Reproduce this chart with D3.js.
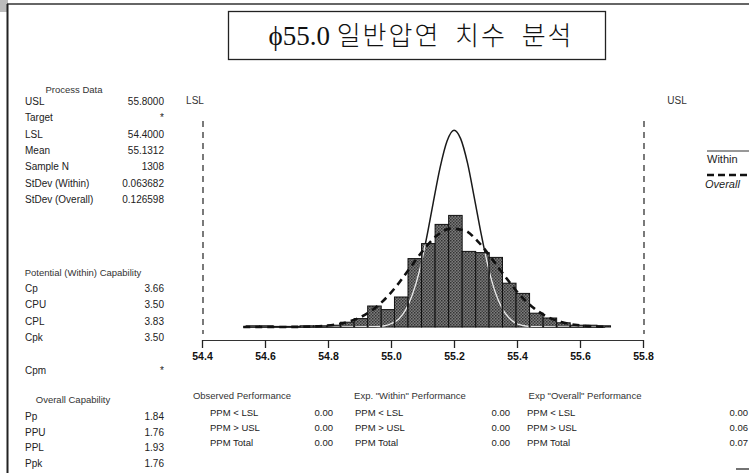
<!DOCTYPE html>
<html>
<head>
<meta charset="utf-8">
<script src="https://cdn.jsdelivr.net/npm/d3@7"></script>
<style>
body { margin: 0; background: #fff; }
svg { display: block; font-family: "Liberation Sans", Arial, sans-serif; }
</style>
</head>
<body>
<svg id="drawing_region"></svg>
<script>
// histogram bins (lower edges on the printed axis) and counts
const binStarts = [54.540, 54.583, 54.626, 54.669, 54.711, 54.754, 54.797, 54.840, 54.883, 54.926, 54.969, 55.011, 55.054, 55.097, 55.140, 55.183, 55.226, 55.269, 55.311, 55.354, 55.397, 55.440, 55.483, 55.526, 55.569, 55.611, 55.654];
const binCounts = [2, 2, 1, 1, 2, 2, 3, 8, 14, 35, 29, 50, 114, 139, 171, 186, 126, 124, 116, 73, 56, 23, 15, 7, 3, 3, 2];
const binWidth = 0.0429;

// the two fitted curves
const withinX = [54.531, 54.838, 54.937, 54.959, 54.980, 55.002, 55.024, 55.046, 55.068, 55.090, 55.112, 55.134, 55.156, 55.178, 55.200, 55.221, 55.243, 55.265, 55.287, 55.309, 55.331, 55.353, 55.375, 55.397, 55.419, 55.440, 55.462, 55.550, 55.680];
const withinY = [0, 0, 0.3, 0.8, 2, 6, 13, 28, 54, 93, 146, 207, 266, 310, 328, 314, 273, 214, 153, 99, 58, 31, 15, 6, 2.5, 1, 0.3, 0, 0];
const overallX = [54.531, 54.575, 54.619, 54.663, 54.707, 54.751, 54.794, 54.838, 54.882, 54.926, 54.970, 55.014, 55.057, 55.101, 55.145, 55.189, 55.233, 55.277, 55.320, 55.364, 55.408, 55.452, 55.496, 55.540, 55.583, 55.626, 55.680];
const overallY = [0, 0, 0, 0.1, 0.3, 0.8, 2.2, 5.4, 11.7, 23, 41, 66, 96, 127, 152, 164, 161, 142, 114, 83, 54, 32, 17, 8.4, 3.7, 1.5, 0.2];

const xTicks = [54.4, 54.6, 54.8, 55.0, 55.2, 55.4, 55.6, 55.8];
const specNames = ["LSL", "USL"];
const specValues = [54.4, 55.8];

const titleText = ["ϕ55.0", "일반압연 치수 분석"];

const processLabels = ["USL", "Target", "LSL", "Mean", "Sample N", "StDev (Within)", "StDev (Overall)"];
const processValues = ["55.8000", "*", "54.4000", "55.1312", "1308", "0.063682", "0.126598"];
const potentialLabels = ["Cp", "CPU", "CPL", "Cpk"];
const potentialValues = ["3.66", "3.50", "3.83", "3.50"];
const cpmLabel = ["Cpm", "*"];
const overallLabels = ["Pp", "PPU", "PPL", "Ppk"];
const overallValues = ["1.84", "1.76", "1.93", "1.76"];

const perfTitles = ["Observed Performance", "Exp. \"Within\" Performance", "Exp \"Overall\" Performance"];
const perfLabels = ["PPM < LSL", "PPM > USL", "PPM Total"];
const perfObserved = ["0.00", "0.00", "0.00"];
const perfWithin = ["0.00", "0.00", "0.00"];
const perfOverall = ["0.00", "0.06", "0.07"];

class CapabilityChart {

    constructor( config ) {
        this.config = config;
        this.init();
    }

    init() {
        let self = this;

        self.svg = d3.select( self.config.parent )
            .attr('width', self.config.width)
            .attr('height', self.config.height);

        const defs = self.svg.append('defs');
        const pat = defs.append('pattern')
            .attr('id', 'halftone')
            .attr('width', 3).attr('height', 3)
            .attr('patternUnits', 'userSpaceOnUse');
        pat.append('rect').attr('width', 3).attr('height', 3).attr('fill', '#7c7c7c');
        pat.append('rect').attr('width', 1.5).attr('height', 1.5).attr('fill', '#333');
        pat.append('rect').attr('x', 1.5).attr('y', 1.5).attr('width', 1.5).attr('height', 1.5).attr('fill', '#444');

        self.xscale = d3.scaleLinear()
            .domain( [54.4, 55.8] )
            .range( [202, 643] );

        self.yscale = d3.scaleLinear()
            .domain( [0, 200] )
            .range( [327, 207] );

        self.xaxis = d3.axisBottom( self.xscale )
            .tickValues( xTicks )
            .tickFormat( d3.format('.1f') )
            .tickSize(8)
            .tickSizeOuter(0)
            .tickPadding(5);
    }

    render() {
        let self = this;
        const svg = self.svg;

        // page frame from the scan
        svg.append('rect').attr('x', 0).attr('y', 0).attr('width', 8).attr('height', 12)
            .attr('fill', '#bbb');
        svg.append('line').attr('x1', 7).attr('x2', 749).attr('y1', 4).attr('y2', 4)
            .attr('stroke', '#333').attr('stroke-width', 1.5);
        svg.append('line').attr('x1', 7.5).attr('x2', 7.5).attr('y1', 4).attr('y2', 473)
            .attr('stroke', '#222').attr('stroke-width', 2);
        svg.append('line').attr('x1', 736).attr('x2', 749).attr('y1', 469).attr('y2', 469)
            .attr('stroke', '#444').attr('stroke-width', 1.5);

        // title box
        svg.append('rect')
            .attr('x', 228.5).attr('y', 11.5).attr('width', 377).attr('height', 48)
            .attr('fill', 'none').attr('stroke', '#222').attr('stroke-width', 1.3);
        const title = svg.append('text')
            .attr('x', 421).attr('y', 45)
            .attr('text-anchor', 'middle')
            .attr('fill', '#111');
        title.append('tspan')
            .style('font-family', '"Liberation Serif", serif')
            .style('font-size', '27px')
            .text( titleText[0] + ' ' );
        title.append('tspan')
            .style('font-family', '"Noto Sans CJK KR", sans-serif')
            .style('font-size', '26px')
            .style('font-weight', '300')
            .style('word-spacing', '7px')
            .style('letter-spacing', '2px')
            .text( titleText[1] );

        // histogram bars
        const bars = svg.append('g');
        bars.selectAll('rect')
            .data( binStarts )
            .join('rect')
            .attr('x', (d) => self.xscale(d))
            .attr('y', (d, i) => self.yscale(binCounts[i]))
            .attr('width', (d) => self.xscale(d + binWidth) - self.xscale(d))
            .attr('height', (d, i) => self.yscale(0) - self.yscale(binCounts[i]))
            .attr('fill', 'url(#halftone)')
            .attr('stroke', '#111')
            .attr('stroke-width', 1);

        const clip = svg.select('defs').append('clipPath').attr('id', 'barclip');
        clip.selectAll('rect')
            .data( binStarts )
            .join('rect')
            .attr('x', (d) => self.xscale(d) + 1)
            .attr('y', (d, i) => self.yscale(binCounts[i]) + 1)
            .attr('width', (d) => self.xscale(d + binWidth) - self.xscale(d) - 2)
            .attr('height', (d, i) => Math.max(0, self.yscale(0) - self.yscale(binCounts[i]) - 1));

        const line = d3.line()
            .x( (d) => self.xscale(d[0]) )
            .y( (d) => self.yscale(d[1]) )
            .curve( d3.curveMonotoneX );

        const within = withinX.map( (x, i) => [x, withinY[i]] );
        const overall = overallX.map( (x, i) => [x, overallY[i]] );

        svg.append('path')
            .attr('d', line(within))
            .attr('fill', 'none')
            .attr('stroke', '#1a1a1a')
            .attr('stroke-width', 1.5);
        svg.append('path')
            .attr('d', line(within))
            .attr('fill', 'none')
            .attr('stroke', '#e6e6e6')
            .attr('stroke-width', 1.5)
            .attr('clip-path', 'url(#barclip)');

        svg.append('path')
            .attr('d', line(overall))
            .attr('fill', 'none')
            .attr('stroke', '#111')
            .attr('stroke-width', 2.6)
            .attr('stroke-dasharray', '7,5');

        // spec limit lines, labels sit a little off the line as in the scan
        const labelShift = [-7, 34];
        specValues.forEach( (v, i) => {
            svg.append('line')
                .attr('x1', self.xscale(v) + 1).attr('x2', self.xscale(v) + 1)
                .attr('y1', 121).attr('y2', 334)
                .attr('stroke', '#333').attr('stroke-width', 1.3)
                .attr('stroke-dasharray', '6,5');
            svg.append('text')
                .attr('x', self.xscale(v) + labelShift[i]).attr('y', 104)
                .attr('text-anchor', 'middle')
                .attr('font-size', 10).attr('fill', '#333')
                .text( specNames[i] );
        });

        // x axis
        const ax = svg.append('g')
            .attr('transform', 'translate(0, 340)')
            .call( self.xaxis );
        ax.select('.domain').attr('stroke', '#333');
        ax.selectAll('.tick line').attr('stroke', '#222').attr('stroke-width', 1.3);
        ax.selectAll('.tick text')
            .attr('fill', '#111')
            .attr('font-size', 10.5)
            .attr('font-weight', 'bold')
            .attr('font-family', '"Liberation Sans", Arial, sans-serif');

        // legend
        svg.append('line').attr('x1', 707).attr('x2', 749).attr('y1', 151).attr('y2', 151)
            .attr('stroke', '#333').attr('stroke-width', 1.2);
        svg.append('text').attr('x', 707).attr('y', 163)
            .attr('font-size', 11).attr('fill', '#222').text('Within');
        svg.append('line').attr('x1', 707).attr('x2', 749).attr('y1', 175).attr('y2', 175)
            .attr('stroke', '#111').attr('stroke-width', 2.6).attr('stroke-dasharray', '7,4');
        svg.append('text').attr('x', 705).attr('y', 188)
            .attr('font-size', 11).attr('font-style', 'italic').attr('fill', '#222').text('Overall');

        // left tables
        const small = 10;
        const table = (g, header, hx, headerY, labels, values, y0, dy) => {
            g.append('text').attr('x', hx).attr('y', headerY)
                .attr('text-anchor', 'middle').attr('font-size', 9.5).attr('fill', '#333')
                .text(header);
            labels.forEach( (lab, i) => {
                g.append('text').attr('x', 25).attr('y', y0 + i * dy)
                    .attr('font-size', small).attr('fill', '#222').text(lab);
                g.append('text').attr('x', 164).attr('y', y0 + i * dy)
                    .attr('text-anchor', 'end').attr('font-size', small).attr('fill', '#222').text(values[i]);
            });
        };
        const left = svg.append('g');
        table(left, 'Process Data', 74, 93, processLabels, processValues, 105, 16.3);
        table(left, 'Potential (Within) Capability', 83, 276, potentialLabels, potentialValues, 292, 16.3);
        left.append('text').attr('x', 25).attr('y', 374).attr('font-size', small).attr('fill', '#222').text(cpmLabel[0]);
        left.append('text').attr('x', 164).attr('y', 374).attr('text-anchor', 'end').attr('font-size', small).attr('fill', '#222').text(cpmLabel[1]);
        table(left, 'Overall Capability', 73, 403, overallLabels, overallValues, 420, 15.6);

        // bottom performance tables
        const perfSize = 9.5;
        const perf = (cx, lx, vx, header, values) => {
            svg.append('text').attr('x', cx).attr('y', 399)
                .attr('text-anchor', 'middle').attr('font-size', perfSize).attr('fill', '#333').text(header);
            perfLabels.forEach( (lab, i) => {
                svg.append('text').attr('x', lx).attr('y', 416 + i * 14.8)
                    .attr('font-size', perfSize).attr('fill', '#222').text(lab);
                svg.append('text').attr('x', vx).attr('y', 416 + i * 14.8)
                    .attr('text-anchor', 'end').attr('font-size', perfSize).attr('fill', '#222').text(values[i]);
            });
        };
        perf(242, 210, 333, perfTitles[0], perfObserved);
        perf(410, 355, 510, perfTitles[1], perfWithin);
        perf(585, 527, 748, perfTitles[2], perfOverall);
    }
}

const chart = new CapabilityChart({ parent: '#drawing_region', width: 749, height: 473 });
chart.render();
</script>
</body>
</html>
